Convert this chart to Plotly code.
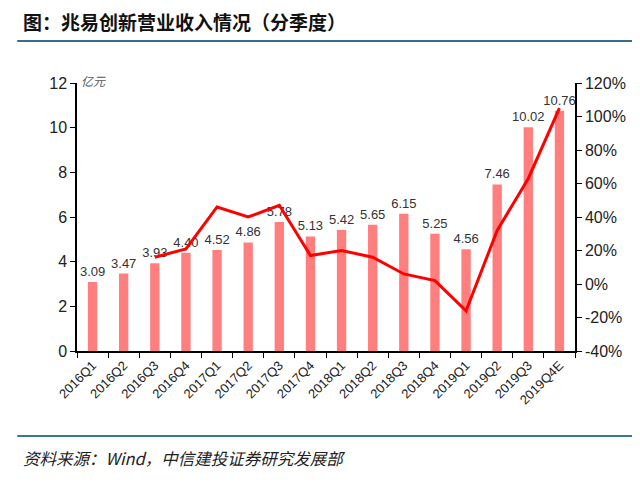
import plotly.graph_objects as go

quarters = ["2016Q1", "2016Q2", "2016Q3", "2016Q4", "2017Q1", "2017Q2", "2017Q3", "2017Q4",
            "2018Q1", "2018Q2", "2018Q3", "2018Q4", "2019Q1", "2019Q2", "2019Q3", "2019Q4E"]
revenue = [3.09, 3.47, 3.93, 4.40, 4.52, 4.86, 5.78, 5.13,
           5.42, 5.65, 6.15, 5.25, 4.56, 7.46, 10.02, 10.76]
revenue_labels = ["3.09", "3.47", "3.93", "4.40", "4.52", "4.86", "5.78", "5.13",
                  "5.42", "5.65", "6.15", "5.25", "4.56", "7.46", "10.02", "10.76"]
# yoy growth (%), starts at 2016Q3
growth_quarters = quarters[2:]
growth = [16, 21, 46, 40, 47, 17, 20, 16, 6, 2, -16, 32, 63, 105]

left_ticks = [0, 2, 4, 6, 8, 10, 12]
right_ticks = [-40, -20, 0, 20, 40, 60, 80, 100, 120]
right_labels = ["-40%", "-20%", "0%", "20%", "40%", "60%", "80%", "100%", "120%"]

base_font = "Arial, Liberation Sans, sans-serif"
cjk_font = "Noto Sans CJK SC"

fig = go.Figure()

fig.add_trace(go.Bar(
    x=quarters, y=revenue,
    text=revenue_labels, textposition="outside",
    constraintext="none",
    textfont=dict(family=base_font, size=13, color="#333333"),
    cliponaxis=False,
    marker=dict(color="#FF7F7F", line=dict(width=0)),
    width=0.3,
))

fig.add_trace(go.Scatter(
    x=growth_quarters, y=growth, yaxis="y2",
    mode="lines",
    line=dict(color="#FF0000", width=3),
))

axis_common = dict(
    showline=True, linecolor="black", linewidth=1.5,
    ticks="outside", ticklen=5, tickcolor="black",
    showgrid=False, zeroline=False,
)

# page body has an 8px margin, so the figure is a little smaller than the window
fig.update_layout(
    width=632, height=488, autosize=False,
    margin=dict(l=69, r=65, t=75, b=145),
    paper_bgcolor="white", plot_bgcolor="white",
    showlegend=False,
    xaxis=dict(
        **axis_common,
        tickson="boundaries",
        tickangle=-45,
        tickfont=dict(family=base_font, size=13, color="#222222"),
    ),
    yaxis=dict(
        **axis_common,
        range=[0, 12], tickvals=left_ticks,
        tickfont=dict(family=base_font, size=16, color="#222222"),
    ),
    yaxis2=dict(
        **axis_common,
        overlaying="y", side="right",
        range=[-40, 120], tickvals=right_ticks, ticktext=right_labels,
        tickfont=dict(family=base_font, size=16, color="#222222"),
    ),
    shapes=[
        dict(type="line", xref="paper", yref="paper", x0=-0.12, x1=1.13, y0=1.157, y1=1.157,
             line=dict(color="#3A6A8C", width=2)),
        dict(type="line", xref="paper", yref="paper", x0=-0.12, x1=1.13, y0=-0.317, y1=-0.317,
             line=dict(color="#3A7A8C", width=2)),
    ],
    annotations=[
        dict(text="<b>图：兆易创新营业收入情况（分季度）</b>", xref="paper", yref="paper",
             x=-0.113, y=1.23, xanchor="left", yanchor="middle", showarrow=False,
             font=dict(family=cjk_font, size=19, color="#111111")),
        dict(text="亿元", xref="paper", yref="paper", x=0.005, y=1.01,
             xanchor="left", yanchor="middle", showarrow=False,
             font=dict(family=cjk_font, size=12, color="#555555", style="italic")),
        dict(text="资料来源：Wind，中信建投证券研究发展部", xref="paper", yref="paper",
             x=-0.113, y=-0.40, xanchor="left", yanchor="middle", showarrow=False,
             font=dict(family=cjk_font, size=16.5, color="#222222", style="italic")),
    ],
)

fig.write_html("out.html")
